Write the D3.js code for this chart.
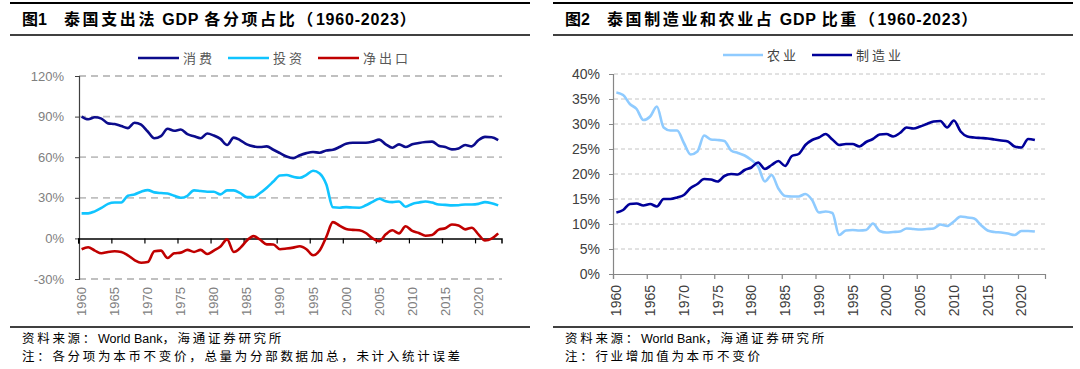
<!DOCTYPE html>
<html><head><meta charset="utf-8">
<script src="https://cdn.jsdelivr.net/npm/d3@7"></script>
<style>
html,body{margin:0;padding:0;background:#fff;}
svg{display:block;}
</style></head>
<body>
<svg id="c" width="1080" height="369"></svg>
<script>
// ---------- data ----------
const years = d3.range(1960, 2024);
const consumption = [90,88,89.5,88.5,85,84.5,83,81.5,85.5,84,79,74,75.5,81,79.5,80.5,77,75.5,74,77.5,76,73.5,69,74.5,72.5,69.5,68,67.5,68,65.5,63,60.5,59.3,61.5,63,63.8,63.3,65,65.5,67.5,70,70.7,70.7,70.7,71.5,73,69.5,67,69.5,67.5,69.5,70.5,71.2,71.5,68.5,67.5,65.8,66.5,69,68,72.5,75,74.8,72.7];
const investment = [18.5,18.5,20,22.5,25.5,26.5,26.5,31.5,32.5,34.5,35.7,34,33.5,33.2,31.5,30,31.5,35.5,35,34.5,34.5,32.5,35.5,35.5,33.5,30.5,30.5,33.5,37.5,42,46.5,46.8,45.5,44.8,47,50,48,40,23,22.7,23.1,22.8,22.7,24.5,27,29.3,27.5,26.8,27.3,23.4,25.5,26.5,27.3,26.5,25,24.8,24.4,24.5,25.1,25.1,25.5,26.8,26,24.4];
const netExports = [-8,-6.5,-9,-11,-10,-9.5,-10,-12.5,-16,-18,-17.5,-9.5,-9,-14.5,-11,-10.5,-8.5,-10,-8.5,-11.5,-9,-6,-0.7,-10,-7,-1.5,1.7,-1,-4.4,-4.5,-8,-7.5,-6.8,-5.8,-8,-12.5,-9,1,12,9.5,7,6.3,6,4,0,-2,3,6,3.7,9,5.5,4,2,2.5,6.5,7.5,10.3,9.6,6.7,7.9,3,-1.5,-0.2,3.7];
const agriculture = [36.3,35.8,34,33,30.8,31.5,33.5,29.3,28.7,28.7,26.2,23.9,24.5,27.7,26.9,26.8,26.6,24.7,24.2,23.7,22.8,21.5,18.5,19.8,17.1,15.6,15.5,15.5,16,14.8,12.3,12.5,12.2,7.8,8.7,8.8,8.7,8.8,10.1,8.6,8.3,8.4,8.5,9.1,9,8.9,9,9.1,9.9,9.6,10.5,11.5,11.3,11.1,9.8,8.7,8.4,8.3,8.1,7.8,8.6,8.6,8.5,null];
const manufacturing = [12.3,12.8,14,14.1,13.7,14,13.5,15,15,15.3,15.8,17.2,18,19,18.9,18.5,19.6,20,19.9,20.8,21.3,22.3,21,21.8,22.6,21.6,23.6,24,25.8,26.8,27.3,28,26.9,25.8,26,26,25.5,26.4,27,27.9,28,27.5,28.2,29.3,29.1,29.5,30,30.5,30.6,29.3,30.7,28.5,27.5,27.3,27.2,27.1,26.9,26.7,26.5,25.5,25.3,27,26.8,null];
const leftTicks = [-30,0,30,60,90,120];
const rightTicks = [0,5,10,15,20,25,30,35,40];
const xTickYears = d3.range(1960, 2021, 5);
const leftNames = ["消费","投资","净出口"];
const rightNames = ["农业","制造业"];
const title1 = ["图1", "泰国支出法 GDP 各分项占比（1960-2023）"];
const title2 = ["图2", "泰国制造业和农业占 GDP 比重（1960-2023）"];
const src1 = ["资料来源：World Bank，海通证券研究所", "注：各分项为本币不变价，总量为分部数据加总，未计入统计误差"];
const src2 = ["资料来源：World Bank，海通证券研究所", "注：行业增加值为本币不变价"];

const svg = d3.select("#c");
svg.append("rect").attr("width",1080).attr("height",369).attr("fill","#fff");
const CJK = "'Liberation Sans', Arial, 'Noto Sans CJK SC', sans-serif";
const SONG = "'Liberation Sans', 'Noto Sans CJK SC', sans-serif";

function runs(s) {
  const out = [];
  for (const ch of s) {
    const cjk = /[\u3000-\u9fff\uff00-\uffef]/.test(ch);
    if (out.length && out[out.length-1].cjk === cjk) out[out.length-1].t += ch;
    else out.push({t: ch, cjk});
  }
  return out;
}
function spacedText(g, x, y, s, size, weight, cjkSpace, latSpace) {
  const t = g.append("text").attr("x",x).attr("y",y)
    .attr("font-family",CJK).attr("font-size",size).attr("font-weight",weight).attr("fill","#000");
  runs(s).forEach(r=>{
    t.append("tspan").text(r.t).attr("letter-spacing", r.cjk ? cjkSpace : latSpace);
  });
  return t;
}

function frame(x0, x1, t, src) {
  const g = svg.append("g");
  g.append("line").attr("x1",x0).attr("x2",x1).attr("y1",3).attr("y2",3).attr("stroke","#000").attr("stroke-width",2.2);
  g.append("line").attr("x1",x0).attr("x2",x1).attr("y1",35).attr("y2",35).attr("stroke","#000").attr("stroke-width",1.6);
  g.append("line").attr("x1",x0).attr("x2",x1).attr("y1",327).attr("y2",327).attr("stroke","#000").attr("stroke-width",1.6);
  g.append("text").attr("x",x0+12).attr("y",25).text(t[0])
    .attr("font-family",CJK).attr("font-weight","bold").attr("font-size",16).attr("fill","#000");
  spacedText(g, x0+54, 25, t[1], 16, "bold", 2.6, 0.8);
  src.forEach((s,i)=>{
    spacedText(g, x0+12, 343+i*18, s, 12.5, "normal", 2.7, 0);
  });
}
frame(10, 530, title1, src1);
frame(553, 1073, title2, src2);

// ---------- left chart ----------
{
  const xl = d3.scaleLinear().domain([1960, 2024]).range([78.3, 501.5]);
  const y = d3.scaleLinear().domain([-30, 120]).range([279, 76]);
  const g = svg.append("g");
  g.selectAll(".grid").data(leftTicks.filter(d=>d!==0)).join("line")
    .attr("x1",79).attr("x2",502).attr("y1",d=>y(d)).attr("y2",d=>y(d))
    .attr("stroke","#c0c0c0").attr("stroke-width",1.8).attr("stroke-dasharray","7,5");
  const ya = g.append("g").attr("transform","translate(79,0)")
    .call(d3.axisLeft(y).tickValues(leftTicks).tickSize(4).tickPadding(11).tickFormat(d=>d+"%"));
  ya.select(".domain").attr("stroke","#404040").attr("stroke-width",1.2);
  ya.selectAll(".tick line").attr("stroke","#404040");
  ya.selectAll("text").attr("font-family","'Liberation Sans', Arial").attr("font-size",13).attr("fill","#808080");
  const xa = g.append("g").attr("transform",`translate(0,${y(0)})`)
    .call(d3.axisBottom(xl).tickValues(xTickYears).tickSize(5).tickFormat(""));
  xa.select(".domain").attr("stroke","#000").attr("stroke-width",1.5);
  xa.selectAll(".tick line").attr("stroke","#000").attr("stroke-width",1.2);
  g.selectAll(".xl").data(xTickYears).join("text")
    .attr("transform",d=>`translate(${xl(d+0.5)+4.5},287) rotate(-90)`)
    .attr("text-anchor","end").text(d=>d)
    .attr("font-family","'Liberation Sans', Arial").attr("font-size",13).attr("fill","#808080");
  const series = [consumption, investment, netExports];
  const colors = ["#0c0c8c","#10c4ff","#c00000"];
  const line = d3.line().x((d,i)=>xl(years[i]+0.5)).y(d=>y(d)).curve(d3.curveMonotoneX);
  series.forEach((s,k)=>{
    g.append("path").datum(s).attr("d",line).attr("fill","none")
      .attr("stroke",colors[k]).attr("stroke-width",2.6).attr("stroke-linejoin","round");
  });
  const lx = [138, 228, 318];
  leftNames.forEach((n,k)=>{
    g.append("line").attr("x1",lx[k]).attr("x2",lx[k]+41).attr("y1",58).attr("y2",58)
      .attr("stroke",colors[k]).attr("stroke-width",2.6);
    g.append("text").attr("x",lx[k]+45).attr("y",62.5).text(n)
      .attr("font-family",SONG).attr("font-size",13).attr("letter-spacing",3).attr("fill","#595959");
  });
}

// ---------- right chart ----------
{
  const xl = d3.scaleLinear().domain([1960, 2024]).range([613, 1045]);
  const y = d3.scaleLinear().domain([0, 40]).range([274, 74]);
  const g = svg.append("g");
  g.selectAll(".grid").data(rightTicks.filter(d=>d!==0)).join("line")
    .attr("x1",614).attr("x2",1046).attr("y1",d=>y(d)).attr("y2",d=>y(d))
    .attr("stroke","#c4c4c4").attr("stroke-width",1).attr("stroke-dasharray","4,3");
  const ya = g.append("g").attr("transform","translate(613,0)")
    .call(d3.axisLeft(y).tickValues(rightTicks).tickSize(4).tickPadding(9).tickFormat(d=>d+"%"));
  ya.select(".domain").attr("stroke","#868686").attr("stroke-width",1.2);
  ya.selectAll(".tick line").attr("stroke","#868686");
  ya.selectAll("text").attr("font-family","'Liberation Sans', Arial").attr("font-size",14).attr("fill","#404040");
  const xa = g.append("g").attr("transform",`translate(0,${y(0)})`)
    .call(d3.axisBottom(xl).tickValues(xTickYears).tickSize(5).tickFormat(""));
  xa.select(".domain").attr("stroke","#868686").attr("stroke-width",1.2);
  xa.selectAll(".tick line").attr("stroke","#868686").attr("stroke-width",1.2);
  g.selectAll(".xl").data(xTickYears).join("text")
    .attr("transform",d=>`translate(${xl(d+0.5)+5},285) rotate(-90)`)
    .attr("text-anchor","end").text(d=>d)
    .attr("font-family","'Liberation Sans', Arial").attr("font-size",14).attr("fill","#404040");
  const series = [agriculture, manufacturing];
  const colors = ["#8fcbff","#000099"];
  const line = d3.line().defined(d=>d!=null).x((d,i)=>xl(years[i]+0.5)).y(d=>y(d)).curve(d3.curveMonotoneX);
  series.forEach((s,k)=>{
    g.append("path").datum(s).attr("d",line).attr("fill","none")
      .attr("stroke",colors[k]).attr("stroke-width",2.6).attr("stroke-linejoin","round");
  });
  const lx = [723, 812];
  rightNames.forEach((n,k)=>{
    g.append("line").attr("x1",lx[k]).attr("x2",lx[k]+40).attr("y1",55).attr("y2",55)
      .attr("stroke",colors[k]).attr("stroke-width",2.6);
    g.append("text").attr("x",lx[k]+44).attr("y",59.5).text(n)
      .attr("font-family",SONG).attr("font-size",13).attr("letter-spacing",3).attr("fill","#404040");
  });
}
</script>
</body></html>
